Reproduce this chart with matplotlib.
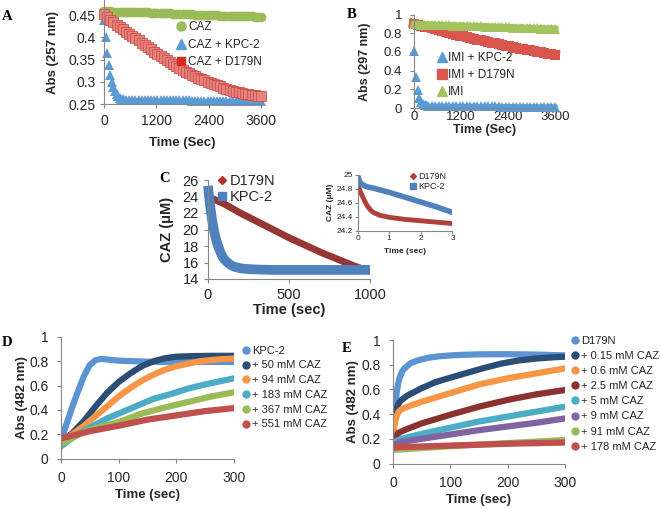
import numpy as np
import matplotlib
matplotlib.use("Agg")
import matplotlib.pyplot as plt
from matplotlib.lines import Line2D
from matplotlib.ticker import FormatStrFormatter

plt.rcParams['font.family'] = ['Liberation Sans', 'DejaVu Sans']

# ---------------- data ----------------
# A: Abs 257 nm, 0..3600 s
a_caz = [0.459, 0.459, 0.459, 0.458, 0.458, 0.458, 0.458, 0.457, 0.457, 0.457,
         0.457, 0.456, 0.456, 0.456, 0.456, 0.455, 0.455, 0.455, 0.454, 0.454,
         0.454, 0.454, 0.453, 0.453, 0.453, 0.453, 0.452, 0.452, 0.452, 0.451,
         0.451, 0.451, 0.451, 0.450, 0.450, 0.450, 0.450, 0.449, 0.449, 0.449,
         0.448, 0.448, 0.448, 0.448, 0.447, 0.447, 0.447, 0.447, 0.446, 0.446,
         0.446]
a_kpc_early = [0.440, 0.400, 0.365, 0.338, 0.316, 0.300, 0.288, 0.279, 0.272, 0.267,
               0.264, 0.262, 0.261, 0.260, 0.260]
a_kpc_late = [0.259, 0.259, 0.259, 0.259, 0.259, 0.259, 0.259, 0.259, 0.258, 0.258,
              0.258, 0.258, 0.258, 0.258, 0.258, 0.258, 0.258, 0.258, 0.258, 0.258,
              0.257, 0.257, 0.257, 0.257, 0.257, 0.257, 0.257, 0.257, 0.257, 0.257,
              0.257, 0.257, 0.256, 0.256, 0.256, 0.256, 0.256, 0.256, 0.256, 0.256,
              0.256, 0.256, 0.256]
a_d179n = [0.452, 0.446, 0.440, 0.434, 0.428, 0.423, 0.418, 0.413, 0.408, 0.403,
           0.398, 0.393, 0.388, 0.383, 0.378, 0.373, 0.368, 0.363, 0.358, 0.353,
           0.349, 0.344, 0.340, 0.335, 0.331, 0.327, 0.323, 0.319, 0.316, 0.312,
           0.309, 0.306, 0.303, 0.300, 0.297, 0.295, 0.293, 0.290, 0.287, 0.284,
           0.282, 0.279, 0.278, 0.276, 0.275, 0.273, 0.272, 0.271, 0.270, 0.269,
           0.267]

# B: Abs 297 nm, 0..3600 s
b_kpc_early = [0.61, 0.33, 0.19, 0.11, 0.065, 0.045, 0.033, 0.027, 0.024]
b_kpc_late = [0.022, 0.022, 0.021, 0.021, 0.021, 0.020, 0.020, 0.020, 0.019, 0.019,
              0.019, 0.019, 0.018, 0.018, 0.018, 0.018, 0.017, 0.017, 0.017, 0.017,
              0.016, 0.016, 0.016, 0.016, 0.015, 0.015, 0.015, 0.015, 0.015, 0.014,
              0.014, 0.014, 0.014, 0.014, 0.013, 0.013]
b_d179n = [0.900, 0.890, 0.880, 0.871, 0.861, 0.851, 0.841, 0.832, 0.822, 0.812,
           0.803, 0.793, 0.784, 0.774, 0.765, 0.756, 0.747, 0.738, 0.730, 0.722,
           0.714, 0.706, 0.698, 0.690, 0.682, 0.674, 0.666, 0.658, 0.651, 0.643,
           0.636, 0.629, 0.622, 0.615, 0.608, 0.601, 0.595, 0.588, 0.582, 0.576,
           0.570]
b_imi = [0.895, 0.894, 0.893, 0.892, 0.890, 0.889, 0.888, 0.887, 0.885, 0.884,
         0.883, 0.882, 0.880, 0.879, 0.878, 0.877, 0.875, 0.874, 0.873, 0.872,
         0.870, 0.869, 0.868, 0.867, 0.865, 0.864, 0.863, 0.862, 0.860, 0.859,
         0.858, 0.857, 0.855, 0.854, 0.853, 0.852, 0.850, 0.849, 0.848, 0.847,
         0.845]

# C: CAZ (uM) vs time (sec)
c_kpc_t = [0, 5, 10, 15, 20, 25, 30, 40, 50, 60, 70, 80, 90, 100, 120, 140, 160,
           180, 200, 250, 300, 400, 500, 600, 700, 800, 900, 1000]
c_kpc = [25.3, 24.3, 23.4, 22.6, 21.9, 21.2, 20.6, 19.6, 18.8, 18.1, 17.6, 17.1,
         16.7, 16.4, 16.0, 15.7, 15.5, 15.4, 15.3, 15.2, 15.15, 15.1, 15.1, 15.1,
         15.1, 15.1, 15.1, 15.1]
c_d179n_t = [0, 100, 200, 300, 400, 500, 600, 700, 800, 900, 1000]
c_d179n = [24.0, 23.1, 22.0, 21.0, 20.0, 19.0, 18.1, 17.2, 16.4, 15.6, 14.9]
# C inset (first 3 s)
ci_kpc_t = [0, 0.05, 0.1, 0.2, 0.3, 0.5, 0.75, 1.0, 1.5, 2.0, 2.5, 3.0]
ci_kpc = [25.0, 24.93, 24.88, 24.85, 24.83, 24.81, 24.78, 24.75, 24.68, 24.61, 24.54, 24.46]
ci_d179n_t = [0, 0.1, 0.2, 0.3, 0.4, 0.5, 0.7, 1.0, 1.5, 2.0, 2.5, 3.0]
ci_d179n = [24.86, 24.75, 24.65, 24.56, 24.50, 24.46, 24.42, 24.39, 24.36, 24.34, 24.32, 24.30]

# D: Abs 482 nm, KPC-2 with CAZ
d_labels = ['KPC-2', '+ 50 mM CAZ', '+ 94 mM CAZ', '+ 183 mM CAZ', '+ 367 mM CAZ', '+ 551 mM CAZ']
d_colors = ['#5B93D3', '#2C4D75', '#F79646', '#4BACC6', '#9BBB59', '#C0504D']
d_t = [
    [0, 10, 20, 30, 40, 50, 60, 70, 80, 100, 130, 160, 200, 250, 300],
    [0, 20, 40, 60, 80, 100, 120, 140, 160, 180, 200, 230, 260, 300],
    [0, 20, 40, 60, 80, 100, 120, 140, 160, 180, 200, 220, 240, 260, 280, 300],
    [0, 20, 40, 60, 80, 100, 130, 160, 190, 220, 250, 280, 300],
    [0, 20, 40, 60, 100, 140, 180, 220, 260, 300],
    [0, 50, 100, 150, 200, 250, 300],
]
d_v = [
    [0.15, 0.29, 0.43, 0.56, 0.68, 0.77, 0.81, 0.82, 0.815, 0.805, 0.80, 0.795, 0.795, 0.795, 0.795],
    [0.14, 0.21, 0.31, 0.43, 0.54, 0.63, 0.70, 0.76, 0.80, 0.825, 0.838, 0.843, 0.845, 0.845],
    [0.14, 0.20, 0.27, 0.35, 0.43, 0.51, 0.58, 0.64, 0.69, 0.73, 0.76, 0.78, 0.80, 0.81, 0.818, 0.822],
    [0.10, 0.17, 0.23, 0.28, 0.33, 0.37, 0.43, 0.49, 0.53, 0.575, 0.61, 0.64, 0.66],
    [0.12, 0.17, 0.22, 0.25, 0.30, 0.37, 0.42, 0.465, 0.51, 0.545],
    [0.165, 0.225, 0.27, 0.32, 0.355, 0.39, 0.415],
]

# E: Abs 482 nm, D179N with CAZ
e_labels = ['D179N', '+ 0.15 mM CAZ', '+ 0.6 mM CAZ', '+ 2.5 mM CAZ', '+ 5 mM CAZ',
            '+ 9 mM CAZ', '+ 91 mM CAZ', '+ 178 mM CAZ']
e_colors = ['#5B93D3', '#2C4D75', '#F79646', '#8B3230', '#4BACC6', '#8064A2', '#9BBB59', '#C0504D']
e_t = [
    [0, 3, 6, 9, 12, 16, 20, 30, 40, 60, 80, 110, 150, 200, 250, 300],
    [0, 3, 6, 10, 15, 25, 50, 75, 100, 130, 160, 190, 220, 250, 280, 300],
    [0, 3, 6, 10, 15, 25, 50, 100, 150, 200, 250, 300],
    [0, 10, 25, 50, 100, 150, 200, 250, 300],
    [0, 15, 50, 100, 150, 200, 250, 300],
    [0, 15, 50, 100, 150, 200, 250, 300],
    [0, 100, 200, 300],
    [0, 100, 200, 300],
]
e_v = [
    [0.27, 0.42, 0.56, 0.65, 0.70, 0.745, 0.77, 0.81, 0.83, 0.855, 0.868, 0.878, 0.884, 0.885, 0.882, 0.875],
    [0.23, 0.36, 0.44, 0.49, 0.515, 0.55, 0.61, 0.66, 0.695, 0.735, 0.775, 0.81, 0.835, 0.85, 0.86, 0.865],
    [0.24, 0.32, 0.38, 0.42, 0.44, 0.46, 0.50, 0.57, 0.64, 0.69, 0.73, 0.77],
    [0.19, 0.25, 0.28, 0.325, 0.395, 0.46, 0.515, 0.56, 0.595],
    [0.17, 0.20, 0.24, 0.29, 0.34, 0.38, 0.42, 0.46],
    [0.15, 0.175, 0.20, 0.235, 0.27, 0.30, 0.33, 0.365],
    [0.11, 0.14, 0.165, 0.19],
    [0.13, 0.145, 0.16, 0.17],
]

GREEN, BLUE, RED = '#9BBB59', '#5B9BD5', '#C0504D'
AXC = '#868686'
TXT = '#262626'

W, H = 660, 508
fig = plt.figure(figsize=(W / 100, H / 100), dpi=100)


def box(l, t, r, b):
    return [l / W, 1 - b / H, (r - l) / W, (b - t) / H]


def style(ax, fs=10, xpad=4, ypad=3):
    for s in ['top', 'right']:
        ax.spines[s].set_visible(False)
    for s in ['left', 'bottom']:
        ax.spines[s].set_color(AXC)
        ax.spines[s].set_linewidth(0.8)
    ax.tick_params(direction='out', length=3, width=0.8, color=AXC,
                   labelcolor=TXT, labelsize=fs)
    ax.tick_params(axis='x', pad=xpad)
    ax.tick_params(axis='y', pad=ypad)
    ax.yaxis.set_major_formatter(FormatStrFormatter('%g'))


def labels(ax, xl, yl, xy, yx, fs=9.5):
    # label centres given in figure pixels
    ax.set_xlabel(xl, fontsize=fs, fontweight='bold', color=TXT, va='center')
    ax.set_ylabel(yl, fontsize=fs, fontweight='bold', color=TXT, va='center')
    x0, y0, w, h = ax.get_position().bounds
    ax.xaxis.set_label_coords(0.5, (1 - xy / H - y0) / h)
    ax.yaxis.set_label_coords((yx / W - x0) / w, 0.5)


def legend(ax, handles, names, xm, y1, pitch, fs, xt):
    fpx = fs * 100 / 72
    hl = 0.8
    x0 = xm - hl * fpx / 2
    tp = (xt - xm - hl * fpx / 2) / fpx
    rowh = 0.95 * fpx
    ls = (pitch - rowh) / fpx
    ax.legend(handles, names, loc='upper left', frameon=False, fontsize=fs,
              bbox_to_anchor=(x0 / W, 1 - (y1 - rowh / 2) / H),
              bbox_transform=fig.transFigure, borderaxespad=0, borderpad=0,
              handlelength=hl, handletextpad=tp, labelspacing=ls,
              labelcolor=TXT)


def mk(marker, color, ms, ec=None):
    return Line2D([], [], ls='none', marker=marker, color=color, ms=ms,
                  mec=ec or color)


# ---------------- A ----------------
axA = fig.add_axes(box(104, 0, 261, 104))
tA = np.linspace(0, 3600, len(a_caz))
axA.plot(tA, a_caz, 'o-', color=GREEN, ms=7, lw=5, mew=0, clip_on=False)
axA.plot(np.arange(len(a_kpc_early)) * 36, a_kpc_early, '^', color=BLUE, ms=6.5, mew=0, clip_on=False)
axA.plot(np.linspace(576, 3600, len(a_kpc_late)), a_kpc_late, '^-', color=BLUE, ms=6.5,
         lw=3, mew=0, clip_on=False)
axA.plot(np.linspace(0, 3600, len(a_d179n)), a_d179n, 's', mfc='#E4837D', mec='#CF5049',
         mew=0.6, ms=7, clip_on=False)
axA.set_xlim(0, 3600)
axA.set_ylim(0.25, 0.484)
axA.set_xticks([0, 1200, 2400, 3600])
axA.set_yticks([0.25, 0.3, 0.35, 0.4, 0.45])
style(axA, fs=10, xpad=4, ypad=3)
labels(axA, 'Time (Sec)', 'Abs (257 nm)', 143, 53)
legend(axA, [mk('o', GREEN, 6.5), mk('^', BLUE, 6.5), mk('s', '#D42A20', 6)],
       ['CAZ', 'CAZ + KPC-2', 'CAZ + D179N'], 181, 27, 16.5, 8.5, 188)

# ---------------- B ----------------
axB = fig.add_axes(box(414, 14.5, 555, 108))
axB.plot(np.arange(len(b_kpc_early)) * 45, b_kpc_early, '^', color=BLUE, ms=6.5, mew=0, clip_on=False)
axB.plot(np.linspace(450, 3600, len(b_kpc_late)), b_kpc_late, '^-', color=BLUE, ms=6.5,
         lw=3.5, mew=0, clip_on=False)
axB.plot(np.linspace(0, 3600, len(b_d179n)), b_d179n, 's-', color='#D9564F', ms=7.5, lw=7,
         mew=0, clip_on=False)
axB.plot(np.linspace(0, 3600, len(b_imi)), b_imi, '^-', color='#A3C35E', ms=7.5, lw=5,
         mew=0, clip_on=False)
axB.set_xlim(0, 3600)
axB.set_ylim(0, 1)
axB.set_xticks([0, 1200, 2400, 3600])
axB.set_yticks([0, 0.2, 0.4, 0.6, 0.8, 1])
style(axB, fs=9.5, xpad=0.5, ypad=5.5)
axB.tick_params(axis='x', length=2)
labels(axB, 'Time (Sec)', 'Abs (297 nm)', 129.5, 365, fs=9)
legend(axB, [mk('^', BLUE, 6.5), mk('s', '#D9564F', 7), mk('^', '#A3C35E', 6.5)],
       ['IMI + KPC-2', 'IMI + D179N', 'IMI'], 442, 58, 16, 8.5, 448)

# ---------------- C ----------------
axC = fig.add_axes(box(208, 180, 370, 279))
axC.plot(c_d179n_t, c_d179n, color='#953735', lw=5, solid_capstyle='butt')
axC.plot(c_kpc_t, c_kpc, color='#4F81BD', lw=7, solid_capstyle='butt', clip_on=False)
axC.set_xlim(0, 1000)
axC.set_ylim(14, 26)
axC.set_xticks([0, 500, 1000])
axC.set_yticks(np.arange(14, 27, 2))
style(axC, fs=10.5, xpad=3.5, ypad=3.5)
labels(axC, 'Time (sec)', 'CAZ (μM)', 310, 167, fs=10.5)
legend(axC, [mk('D', '#B0322B', 4), mk('s', '#4F81BD', 6)], ['D179N', 'KPC-2'],
       222, 181, 15.5, 10.5, 230)

axI = fig.add_axes(box(357.5, 175, 452.5, 230.5))
axI.plot(ci_d179n_t, ci_d179n, color='#B0403A', lw=3.5)
axI.plot(ci_kpc_t, ci_kpc, color='#4F81BD', lw=4)
axI.set_xlim(0, 3)
axI.set_ylim(24.2, 25)
axI.set_xticks([0, 1, 2, 3])
axI.set_yticks([24.2, 24.4, 24.6, 24.8, 25])
style(axI, fs=6, xpad=1.5, ypad=1.5)
axI.tick_params(length=2)
labels(axI, 'Time (sec)', 'CAZ (μM)', 251, 330, fs=6)
legend(axI, [mk('D', '#B0403A', 3), mk('s', '#4F81BD', 4.5)], ['D179N', 'KPC-2'],
       413, 176, 9.7, 6.5, 418)

# ---------------- D ----------------
axD = fig.add_axes(box(61, 337, 234, 458.5))
for t, v, c in zip(d_t, d_v, d_colors):
    axD.plot(t, v, color=c, lw=4.5, solid_capstyle='round')
axD.set_xlim(0, 300)
axD.set_ylim(0, 1)
axD.set_xticks([0, 100, 200, 300])
axD.set_yticks([0, 0.2, 0.4, 0.6, 0.8, 1])
style(axD, xpad=6, ypad=6)
labels(axD, 'Time (sec)', 'Abs (482 nm)', 495, 22)
legend(axD, [mk('o', c, 5) for c in d_colors], d_labels, 246, 351, 15.3, 8, 252)

# ---------------- E ----------------
axE = fig.add_axes(box(393, 340, 565, 463.5))
for t, v, c in zip(e_t, e_v, e_colors):
    axE.plot(t, v, color=c, lw=4.5, solid_capstyle='round')
axE.set_xlim(0, 300)
axE.set_ylim(0, 1)
axE.set_xticks([0, 100, 200, 300])
axE.set_yticks([0, 0.2, 0.4, 0.6, 0.8, 1])
style(axE, xpad=6, ypad=6)
labels(axE, 'Time (sec)', 'Abs (482 nm)', 500, 353)
legend(axE, [mk('o', c, 5) for c in e_colors], e_labels, 575, 341, 15.7, 8, 581)

# panel letters
for s, x, y in [('A', 7, 17), ('B', 352, 15), ('C', 165, 179), ('D', 7, 343), ('E', 347, 348)]:
    fig.text(x / W, 1 - y / H, s, fontsize=10.5, fontweight='bold',
             family='Liberation Serif', ha='center', va='center')

fig.savefig('out.png', dpi=100)
